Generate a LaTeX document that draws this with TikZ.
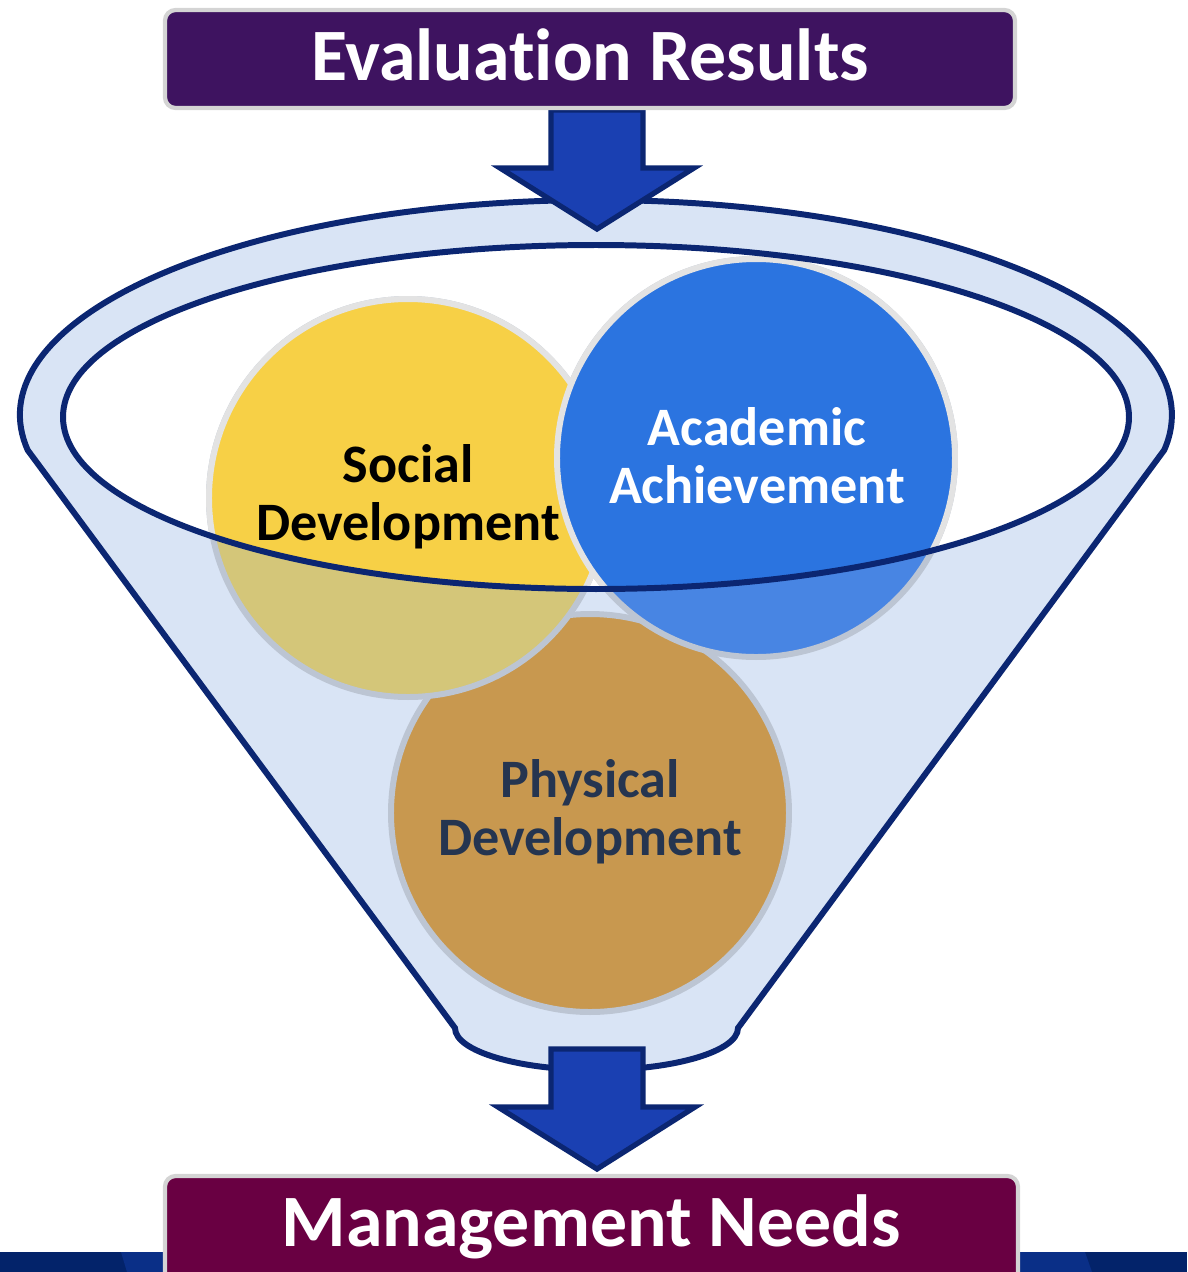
\documentclass[tikz,border=0pt]{standalone}
\usepackage{fontspec}
\setmainfont{Carlito}[Ligatures={NoCommon}]
\usetikzlibrary{calc}

\definecolor{funnelblue}{HTML}{D9E4F5}
\definecolor{rimnavy}{HTML}{0B2672}
\definecolor{arrowblue}{HTML}{1A40B2}
\definecolor{socialyellow}{HTML}{F7D046}
\definecolor{socialtint}{HTML}{D4C679}
\definecolor{academicblue}{HTML}{2B74E0}
\definecolor{academictint}{HTML}{4885E3}
\definecolor{physicalbrown}{HTML}{C8984F}
\definecolor{physicaltext}{HTML}{253550}
\definecolor{evalpurple}{HTML}{3E1360}
\definecolor{needsmaroon}{HTML}{690042}
\definecolor{banddark}{HTML}{03236A}
\definecolor{bandlight}{HTML}{0A2F87}

\tikzset{
  rim/.style={draw=rimnavy,line width=1.7pt},
  blockarrow/.style={fill=arrowblue,draw=rimnavy,line width=1.5pt,line join=miter},
  bubbletext/.style={align=center,font=\bfseries\fontsize{15.4}{16.6}\selectfont},
  titlebox/.style={draw=black!17,line width=1.2pt,rounded corners=3pt},
  titletext/.style={text=white,anchor=base,font=\bfseries\fontsize{21}{25}\selectfont}
}

\begin{document}
\begin{tikzpicture}[x=0.01cm,y=0.01cm]
      \clip (0,0) rectangle (1187,-1272);

      % band along the bottom edge
      \fill[banddark] (0,-1252) rectangle (1187,-1272);
      \fill[bandlight] (121,-1252) -- (1085,-1252) -- (1092,-1272) -- (127,-1272) -- cycle;

      % funnel body
      \draw[rim,fill=funnelblue] (455,-1028) -- (27.7,-450.1)
            arc [start angle=189.4,end angle=-9.4,x radius=576,y radius=215]
            -- (738,-1028)
            arc [start angle=0,end angle=-180,x radius=141.5,y radius=42] -- cycle;
      \fill[white] (596,-417) ellipse [x radius=533,y radius=172];

      % circles, tinted where the funnel covers them
      \draw[fill=physicalbrown,draw=funnelblue!85!black!95,line width=1.7pt] (590,-813) circle [radius=199];
      \draw[fill=socialtint,draw=funnelblue!85!black!95,line width=1.7pt] (408,-498) circle [radius=199];
      \draw[fill=academictint,draw=funnelblue!85!black!95,line width=1.7pt] (756,-458) circle [radius=199];
      \begin{scope}
        \clip (596,-417) ellipse [x radius=533,y radius=172];
        \draw[fill=socialyellow,draw=black!11,line width=1.7pt] (408,-498) circle [radius=199];
        \draw[fill=academicblue,draw=black!11,line width=1.7pt] (756,-458) circle [radius=199];
      \end{scope}
      \draw[rim] (596,-417) ellipse [x radius=533,y radius=172];

      % arrows in and out
      \draw[blockarrow] (551,-110) -- (643,-110) -- (643,-168) -- (694,-168) -- (597,-229)
            -- (500,-168) -- (551,-168) -- cycle;
      \draw[blockarrow] (551,-1049) -- (643,-1049) -- (643,-1107) -- (695,-1107) -- (597,-1169)
            -- (498,-1107) -- (551,-1107) -- cycle;

      % labels
      \draw[titlebox,fill=evalpurple] (165,-10) rectangle (1015,-108);
      \node[titletext] (evaluation) at (590,-80) {Evaluation Results};
      \draw[titlebox,fill=needsmaroon] (165,-1176) rectangle (1018,-1300);
      \node[titletext] (needs) at (591,-1246) {Management Needs};

      \node[bubbletext,text=black] (social) at (408,-497) {Social\\Development};
      \node[bubbletext,text=white] (academic) at (757,-456) {Academic\\Achievement};
      \node[bubbletext,text=physicaltext] (physical) at (590,-812) {Physical\\Development};
    \end{tikzpicture}
\end{document}
